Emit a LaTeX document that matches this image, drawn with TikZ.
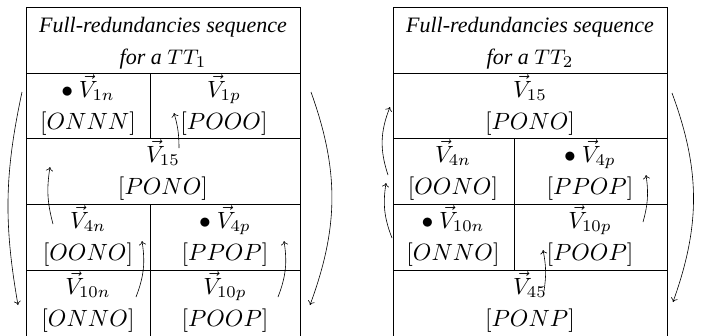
\documentclass[tikz,border=0pt]{standalone}
\usepackage[no-math]{fontspec}
\setmainfont{Liberation Serif}
\usetikzlibrary{arrows.meta}
\begin{document}
\begin{tikzpicture}[x=1pt,y=1pt,
  grid/.style={line width=0.8pt},
  hd/.style={anchor=base,inner sep=0pt,scale=2.35,transform shape,font=\fontsize{9.36}{11}\selectfont\itshape},
  mt/.style={anchor=base,inner sep=0pt,scale=2.35,transform shape,font=\fontsize{10}{12}\selectfont},
  arr/.style={-{To[length=4pt,width=7pt]},line width=0.6pt}]
\useasboundingbox (0,0) rectangle (712,-335);
% ---------- left table ----------
\draw[grid] (26,-345) -- (26,-7) -- (300,-7) -- (300,-345);
\foreach \y in {73,138,204,270} \draw[grid] (26,-\y) -- (300,-\y);
\draw[grid] (150,-73) -- (150,-138);
\draw[grid] (150,-204) -- (150,-345);
\node[hd] (lh1) at (163,-32) {Full-redundancies sequence};
\node[hd] (lh2) at (163,-64) {for a $TT_1$};
\node[mt] (lv1n) at (88,-97) {$\bullet\ \vec{V}_{1n}$};
\node[mt] (lc1n) at (88,-129) {$[ONNN]$};
\node[mt] (lv1p) at (224,-97) {$\vec{V}_{1p}$};
\node[mt] (lc1p) at (224,-129) {$[POOO]$};
\node[mt] (lv15) at (163,-162) {$\vec{V}_{15}$};
\node[mt] (lc15) at (163,-194) {$[PONO]$};
\node[mt] (lv4n) at (88,-228) {$\vec{V}_{4n}$};
\node[mt] (lc4n) at (88,-260) {$[OONO]$};
\node[mt] (lv4p) at (225,-228) {$\bullet\ \vec{V}_{4p}$};
\node[mt] (lc4p) at (225,-260) {$[PPOP]$};
\node[mt] (lv10n) at (88,-294) {$\vec{V}_{10n}$};
\node[mt] (lc10n) at (88,-326) {$[ONNO]$};
\node[mt] (lv10p) at (225,-294) {$\vec{V}_{10p}$};
\node[mt] (lc10p) at (225,-326) {$[POOP]$};
% ---------- right table ----------
\draw[grid] (393,-345) -- (393,-7) -- (667,-7) -- (667,-345);
\foreach \y in {73,138,204,270} \draw[grid] (393,-\y) -- (667,-\y);
\draw[grid] (514,-138) -- (514,-270);
\node[hd] (rh1) at (530,-32) {Full-redundancies sequence};
\node[hd] (rh2) at (530,-64) {for a $TT_2$};
\node[mt] (rv15) at (530,-97) {$\vec{V}_{15}$};
\node[mt] (rc15) at (530,-129) {$[PONO]$};
\node[mt] (rv4n) at (453,-162) {$\vec{V}_{4n}$};
\node[mt] (rc4n) at (453,-194) {$[OONO]$};
\node[mt] (rv4p) at (590,-162) {$\bullet\ \vec{V}_{4p}$};
\node[mt] (rc4p) at (590,-194) {$[PPOP]$};
\node[mt] (rv10n) at (453,-228) {$\bullet\ \vec{V}_{10n}$};
\node[mt] (rc10n) at (453,-260) {$[ONNO]$};
\node[mt] (rv10p) at (590,-228) {$\vec{V}_{10p}$};
\node[mt] (rc10p) at (590,-260) {$[POOP]$};
\node[mt] (rv45) at (530,-294) {$\vec{V}_{45}$};
\node[mt] (rc45) at (530,-326) {$[PONP]$};
% ---------- arrow end points ----------
\coordinate (a1s) at (22,-92);   \coordinate (a1e) at (18,-305);
\coordinate (a2s) at (311,-92);  \coordinate (a2e) at (310,-305);
\coordinate (a3s) at (179,-148); \coordinate (a3e) at (174,-113);
\coordinate (a4s) at (53,-224);  \coordinate (a4e) at (50,-167);
\coordinate (a5s) at (136,-297); \coordinate (a5e) at (142,-241);
\coordinate (a6s) at (278,-297); \coordinate (a6e) at (284,-241);
\coordinate (b1s) at (388,-175); \coordinate (b1e) at (390,-107);
\coordinate (b2s) at (392,-238); \coordinate (b2e) at (386,-183);
\coordinate (b3s) at (643,-222); \coordinate (b3e) at (646,-175);
\coordinate (b4s) at (544,-291); \coordinate (b4e) at (543,-250);
\coordinate (b5s) at (672,-93);  \coordinate (b5e) at (673,-302);
% ---------- arrows ----------
\draw[arr] (a1s) to[bend right=11] (a1e);
\draw[arr] (a2s) to[bend left=20] (a2e);
\draw[arr] (a3s) to[bend right=8] (a3e);
\draw[arr] (a4s) to[bend left=12] (a4e);
\draw[arr] (a5s) to[bend right=15] (a5e);
\draw[arr] (a6s) to[bend right=15] (a6e);
\draw[arr] (b1s) to[bend left=20] (b1e);
\draw[arr] (b2s) to[bend left=15] (b2e);
\draw[arr] (b3s) to[bend right=12] (b3e);
\draw[arr] (b4s) to[bend right=10] (b4e);
\draw[arr] (b5s) to[bend left=20] (b5e);
\end{tikzpicture}
\end{document}
